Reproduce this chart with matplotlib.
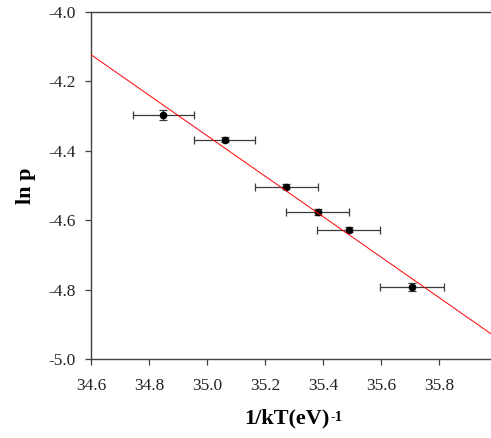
import numpy as np
import matplotlib
matplotlib.use("Agg")
import matplotlib.pyplot as plt

FONT = 'Liberation Serif'
plt.rcParams['font.family'] = 'serif'
plt.rcParams['font.serif'] = [FONT]
plt.rcParams['axes.unicode_minus'] = False

# Arrhenius data: inverse thermal energy vs log probability
inv_kT = [34.849, 35.061, 35.274, 35.382, 35.489, 35.708]
ln_p = [-4.297, -4.368, -4.503, -4.577, -4.627, -4.793]
inv_kT_err = [0.105, 0.105, 0.108, 0.108, 0.108, 0.110]
ln_p_err = [0.015, 0.008, 0.008, 0.008, 0.008, 0.012]

x_ticks = [34.6, 34.8, 35.0, 35.2, 35.4, 35.6, 35.8]
y_ticks = [-5.0, -4.8, -4.6, -4.4, -4.2, -4.0]

fig = plt.figure(figsize=(4.91, 4.38), dpi=100)
ax = fig.add_axes([0.1853, 0.1804, 0.8147, 0.7922])

axis_color = '#404040'

# Linear least-squares fit
slope, intercept = np.polyfit(inv_kT, ln_p, 1)
xfit = np.array([34.6, 35.98])
ax.plot(xfit, slope * xfit + intercept, color='#ff0000', lw=0.7, zorder=3)

ax.errorbar(inv_kT, ln_p, xerr=inv_kT_err, yerr=ln_p_err, fmt='o',
            color='black', ms=4.5, ecolor='#3a3a3a', elinewidth=0.9,
            capsize=3, capthick=0.9, zorder=2)

ax.set_xlim(34.6, 35.98)
ax.set_ylim(-5.0, -4.0)
ax.set_xticks(x_ticks)
ax.set_yticks(y_ticks)
ax.set_xticklabels([f'{v:.1f}' for v in x_ticks], family=FONT)
ax.set_yticklabels([f'{v:.1f}' for v in y_ticks], family=FONT)

for side in ['left', 'bottom', 'top']:
    ax.spines[side].set_color(axis_color)
    ax.spines[side].set_linewidth(1.0)
ax.spines['right'].set_visible(False)

ax.tick_params(axis='both', direction='out', length=4, width=0.9,
               color=axis_color, labelsize=12.5, labelcolor='#222222')
ax.tick_params(axis='x', pad=10)
ax.tick_params(axis='y', pad=7)

xlab = ax.set_xlabel('1/kT(eV)', fontsize=16, fontweight='bold',
                     family=FONT, labelpad=10)
ax.set_ylabel('ln p', fontsize=16, fontweight='bold', family=FONT, labelpad=9)

# Shift the main label left a little and attach a small superscript "-1"
xlab.set_x(0.49)
fig.canvas.draw()
bb = xlab.get_window_extent(renderer=fig.canvas.get_renderer())
fig.text((bb.x1 + 1) / fig.bbox.width, (bb.y1 - 16) / fig.bbox.height, '-1',
         fontsize=10.5, fontweight='bold', family=FONT, ha='left', va='bottom')

fig.savefig('out.png', dpi=100)
